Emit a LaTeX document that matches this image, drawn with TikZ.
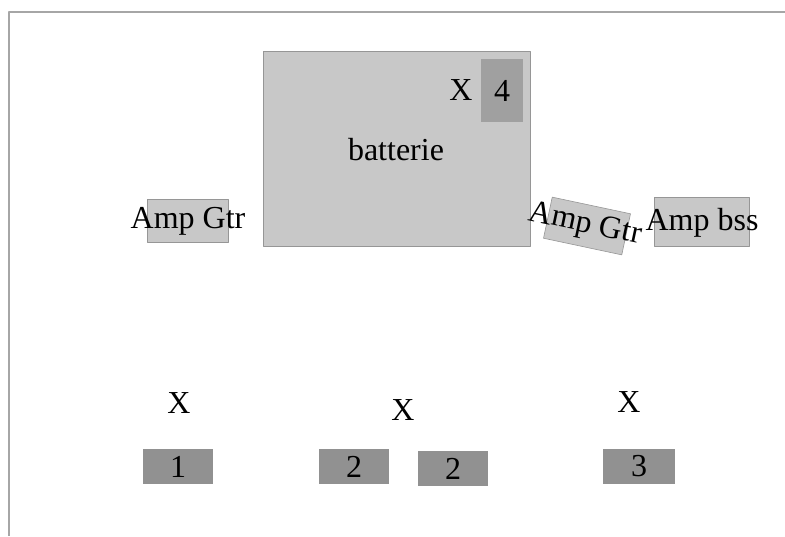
\documentclass[tikz,border=0pt]{standalone}
\usepackage{fontspec}
\setmainfont{Liberation Serif}
\definecolor{boxlight}{RGB}{200,200,200}
\definecolor{boxdark}{RGB}{145,145,145}
\definecolor{boxmid}{RGB}{160,160,160}
\definecolor{edgegray}{RGB}{150,150,150}
\begin{document}
\begin{tikzpicture}[x=1pt,y=-1pt,line join=round,every node/.style={font=\fontsize{32}{38}\selectfont,inner sep=0pt},
	lightbox/.style={fill=boxlight,draw=edgegray,line width=0.6pt},
	darkbox/.style={fill=boxdark,minimum width=70pt,minimum height=35pt},
	frameline/.style={draw=edgegray!85,line width=2.5pt}]
			\useasboundingbox (0,0) rectangle (785,536);
			\path
			(9,536) coordinate (F1)
			(9,12) coordinate (F2)
			(785,12) coordinate (F3);
			\draw[frameline] (F1) -- (F2) -- (F3);
			\node[lightbox,minimum width=267pt,minimum height=195pt] (batt) at (396.5,148.5) {};
			\node (battlbl) at (396,150) {batterie};
			\node[darkbox,fill=boxmid,minimum width=42pt,minimum height=63pt] (four) at (502,90.5) {4};
			\node (x4) at (461,90) {X};
			\node[lightbox,minimum width=81pt,minimum height=43pt] (ampL) at (187.5,220.5) {};
			\node (ampLlbl) at (188,221) {Amp Gtr};
			\node[lightbox,minimum width=80pt,minimum height=42pt,rotate=-12] (ampM) at (587,226) {};
			\node[rotate=-12] (ampMlbl) at (585,225) {Amp Gtr};
			\node[lightbox,minimum width=95pt,minimum height=49pt] (ampR) at (701.5,221.5) {};
			\node (ampRlbl) at (702,223) {Amp bss};
			\node (x1) at (179,403) {X};
			\node (x2) at (403,410) {X};
			\node (x3) at (629,402) {X};
			\node[darkbox] (p1) at (178,466.5) {1};
			\node[darkbox] (p2a) at (354,466.5) {2};
			\node[darkbox] (p2b) at (453,468.5) {2};
			\node[darkbox,minimum width=72pt] (p3) at (639,466.5) {3};
		\end{tikzpicture}
\end{document}
